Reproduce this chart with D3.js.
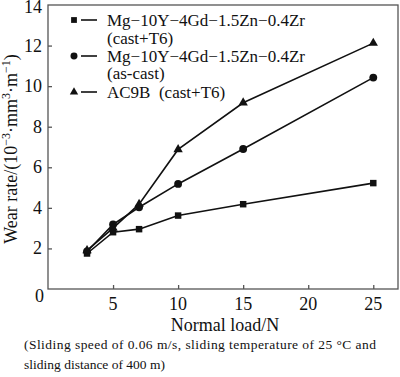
<!DOCTYPE html>
<html>
<head>
<meta charset="utf-8">
<script src="https://cdn.jsdelivr.net/npm/d3@7"></script>
<style>
  body { margin: 0; background: #fff; }
  text { font-family: "Liberation Serif", "Times New Roman", serif; fill: #111; }
</style>
</head>
<body>
<svg width="400" height="377"></svg>
<script>
// loads (N)
let loads = [3, 5, 7, 10, 15, 25];
// wear rate, 10^-3 mm^3/m
let castT6 = [1.75, 2.8, 2.95, 3.62, 4.18, 5.22];
let asCast = [1.85, 3.18, 4.03, 5.18, 6.9, 10.42];
let ac9b = [1.9, 3.0, 4.18, 6.88, 9.18, 12.12];

let seriesNames = [
  ["Mg\u221210Y\u22124Gd\u22121.5Zn\u22120.4Zr", "(cast+T6)"],
  ["Mg\u221210Y\u22124Gd\u22121.5Zn\u22120.4Zr", "(as-cast)"],
  ["AC9B  (cast+T6)"]
];
let xTicks = [5, 10, 15, 20, 25];
let yTicks = [2, 4, 6, 8, 10, 12, 14];

let svg = d3.select("svg");

var plot = {l: 48, r: 398, t: 5, b: 289};

var x = d3.scaleLinear().domain([0, 26.9]).range([plot.l, plot.r]);
var y = d3.scaleLinear().domain([0, 14]).range([plot.b, plot.t]);

// frame
svg.append("rect")
  .attr("x", plot.l).attr("y", plot.t)
  .attr("width", plot.r - plot.l).attr("height", plot.b - plot.t)
  .attr("fill", "none").attr("stroke", "#555").attr("stroke-width", 1.3);

// inward ticks
svg.append("g")
  .attr("transform", "translate(0," + plot.b + ")")
  .call(d3.axisTop(x).tickValues(xTicks).tickSize(4).tickFormat(""))
  .call(g => g.select(".domain").remove())
  .selectAll("line").attr("stroke", "#555").attr("stroke-width", 1.3);

svg.append("g")
  .attr("transform", "translate(" + plot.l + ",0)")
  .call(d3.axisRight(y).tickValues(yTicks.filter(v => v < 14)).tickSize(4).tickFormat(""))
  .call(g => g.select(".domain").remove())
  .selectAll("line").attr("stroke", "#555").attr("stroke-width", 1.3);

// tick labels
svg.selectAll(".xl").data(xTicks).join("text")
  .attr("x", d => x(d)).attr("y", plot.b + 21)
  .attr("text-anchor", "middle").attr("font-size", 18)
  .text(d => d);

svg.selectAll(".yl").data(yTicks).join("text")
  .attr("x", plot.l - 6).attr("y", d => Math.max(y(d) + 6, 13))
  .attr("text-anchor", "end").attr("font-size", 18)
  .text(d => d);

svg.append("text")
  .attr("x", plot.l - 4).attr("y", plot.b + 13)
  .attr("text-anchor", "end").attr("font-size", 18)
  .text("0");

// axis titles
svg.append("text")
  .attr("x", (plot.l + plot.r) / 2 + 2).attr("y", 331)
  .attr("text-anchor", "middle").attr("font-size", 18)
  .text("Normal load/N");

let yTitle = svg.append("text")
  .attr("transform", "translate(17," + 149 + ") rotate(-90)")
  .attr("text-anchor", "middle").attr("font-size", 18);
yTitle.append("tspan").text("Wear rate/(10");
yTitle.append("tspan").attr("dy", -7).attr("font-size", 12).text("\u22123");
yTitle.append("tspan").attr("dy", 7).text("\u00b7mm");
yTitle.append("tspan").attr("dy", -7).attr("font-size", 12).text("3");
yTitle.append("tspan").attr("dy", 7).text("\u00b7m");
yTitle.append("tspan").attr("dy", -7).attr("font-size", 12).text("\u22121");
yTitle.append("tspan").attr("dy", 7).text(")");

// footnote
svg.append("text").attr("x", 24).attr("y", 349).attr("font-size", 13.5)
  .attr("textLength", 352).attr("lengthAdjust", "spacing")
  .text("(Sliding speed of 0.06 m/s, sliding temperature of 25 \u00b0C and");
svg.append("text").attr("x", 24).attr("y", 369).attr("font-size", 13.5)
  .text("sliding distance of 400 m)");

// series
let series = [
  {values: castT6, shape: d3.symbolSquare, size: 42},
  {values: asCast, shape: d3.symbolCircle, size: 48},
  {values: ac9b, shape: d3.symbolTriangle, size: 38}
];

var line = d3.line()
  .x((d, i) => x(loads[i]))
  .y(d => y(d));

series.forEach(function(s) {
  svg.append("path")
    .attr("d", line(s.values))
    .attr("fill", "none").attr("stroke", "#111").attr("stroke-width", 1.6);
  svg.selectAll(null).data(s.values).join("path")
    .attr("transform", (d, i) => "translate(" + x(loads[i]) + "," + y(d) + ")")
    .attr("d", d3.symbol().type(s.shape).size(s.size))
    .attr("fill", "#111");
});

// legend
let legendRows = [20, 56, 92];
let legendText = [[26, 44], [62, 79], [98]];
series.forEach(function(s, i) {
  svg.append("path")
    .attr("transform", "translate(74," + legendRows[i] + ")")
    .attr("d", d3.symbol().type(s.shape).size(s.size * 0.8))
    .attr("fill", "#111");
  svg.append("line")
    .attr("x1", 81).attr("x2", 97)
    .attr("y1", legendRows[i]).attr("y2", legendRows[i])
    .attr("stroke", "#111").attr("stroke-width", 1.6);
  seriesNames[i].forEach(function(t, j) {
    svg.append("text")
      .attr("x", 107).attr("y", legendText[i][j])
      .attr("font-size", 17)
      .style("white-space", "pre")
      .text(t);
  });
});
</script>
</body>
</html>
